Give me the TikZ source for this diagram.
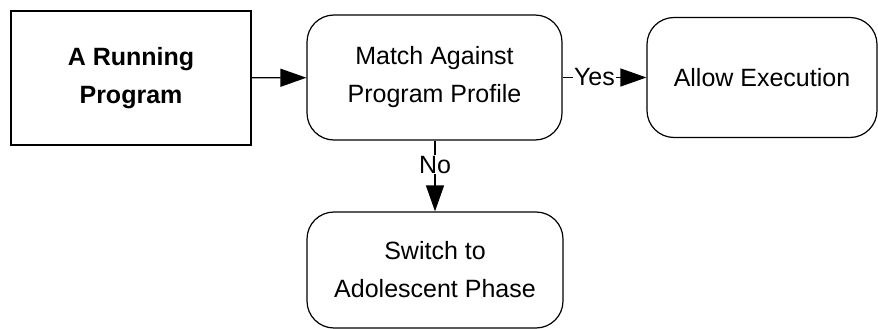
\documentclass[tikz,border=0pt]{standalone}
\usepackage{fontspec}
\setmainfont{Liberation Sans}
\usetikzlibrary{arrows.meta}
\begin{document}
\begin{tikzpicture}[x=1pt,y=-1pt,
  box/.style={draw, line width=1.2pt, align=center, inner sep=0pt,
    font=\fontsize{25}{38}\selectfont},
  roundbox/.style={box, rounded corners=27pt},
  flow/.style={line width=1.3pt, -{Triangle[length=26pt,width=18pt]}},
  lbl/.style={fill=white, inner sep=1pt, font=\fontsize{25}{30}\selectfont}]
\useasboundingbox (0,0) rectangle (878,329);

% process boxes
\node[box, line width=1.8pt, minimum width=240pt, minimum height=134pt,
      font=\bfseries\fontsize{25}{38}\selectfont] (run) at (131,78) {A Running\\Program};
\node[roundbox, minimum width=255pt, minimum height=125pt] (match) at (434.5,77.5)
      {Match Against\\Program Profile};
\node[roundbox, minimum width=230pt, minimum height=120pt] (allow) at (762,77.5)
      {Allow Execution};
\node[roundbox, minimum width=256pt, minimum height=116pt] (switch) at (435,270)
      {Switch to\\Adolescent Phase};

% connectors
\draw[flow] (run) -- (match);
\draw[flow] (match) -- node[lbl, pos=0.38] (yes) {Yes} (allow);
\draw[flow] (match.south -| switch.north) -- node[lbl, pos=0.34] (no) {No} (switch.north);
\end{tikzpicture}
\end{document}
